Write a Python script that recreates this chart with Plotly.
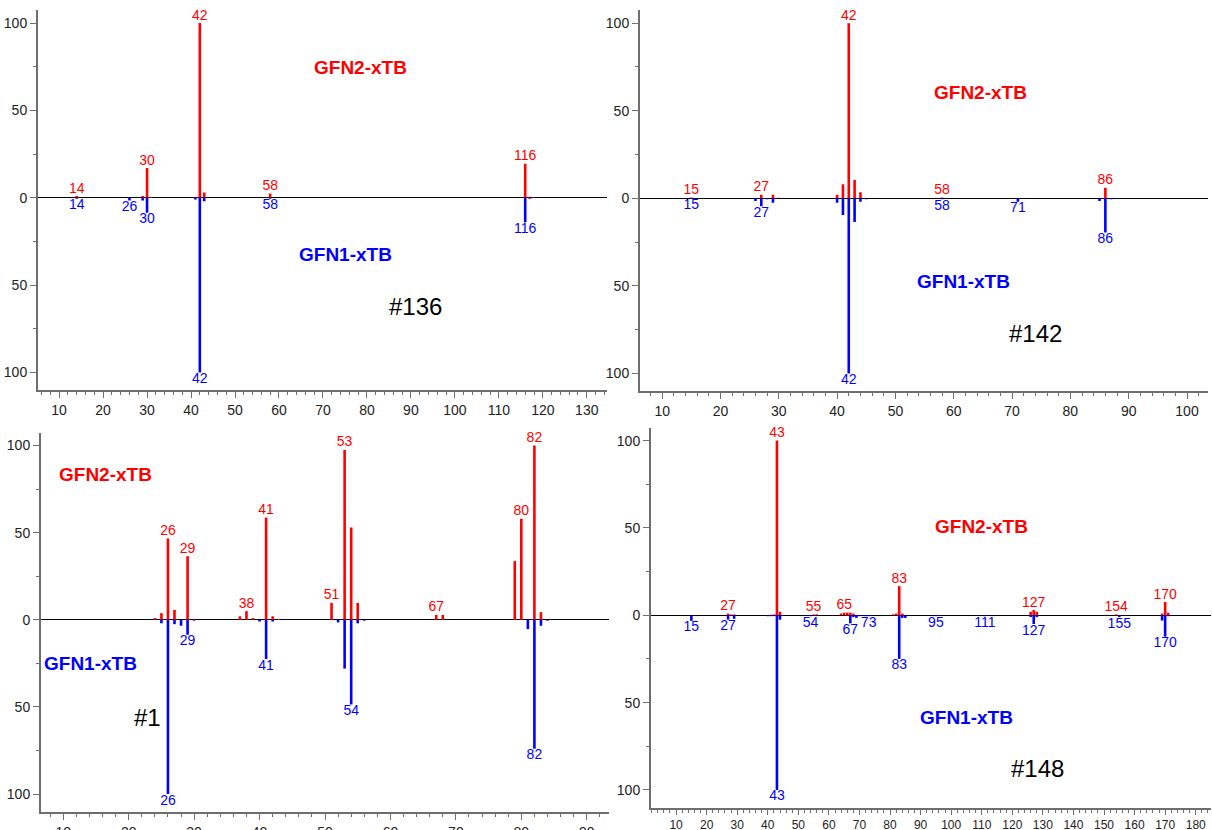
import plotly.graph_objects as go

# ---------------- DATA ----------------
# Panel #136
p136_gfn2_mz = [14, 29, 30, 31, 41, 42, 43, 58, 116, 117, 118]
p136_gfn2_int = [1.0, 1.0, 17, 0.5, 0.5, 100, 3, 2.5, 19.5, 0.6, 0.3]
p136_gfn1_mz = [14, 26, 29, 30, 41, 42, 43, 58, 116, 117]
p136_gfn1_int = [0.5, 1.5, 1.5, 8.5, 1.0, 100, 2.0, 0.5, 14, 0.5]
p136_gfn2_labels = [14, 30, 42, 58, 116]
p136_gfn1_labels = [14, 26, 30, 42, 58, 116]

# Panel #142
p142_gfn2_mz = [15, 27, 29, 30, 40, 41, 42, 43, 44, 58, 86]
p142_gfn2_int = [0.5, 2.0, 2.0, 0.3, 2.0, 8.0, 100, 10.5, 3.5, 0.5, 6.0]
p142_gfn1_mz = [15, 26, 27, 28, 29, 40, 41, 42, 43, 44, 45, 58, 71, 72, 85, 86, 87, 88]
p142_gfn1_int = [0.3, 1.5, 4.5, 0.5, 2.5, 2.5, 9.5, 100, 13.5, 2.0, 0.5, 0.5, 2.0, 0.3, 1.5, 19.5, 0.5, 0.3]
p142_gfn2_labels = [15, 27, 42, 58, 86]
p142_gfn1_labels = [15, 27, 42, 58, 71, 86]

# Panel #1
p1_gfn2_mz = [24, 25, 26, 27, 29, 30, 37, 38, 39, 41, 42, 43, 51, 53, 54, 55, 67, 68, 79, 80, 82, 83]
p1_gfn2_int = [1.0, 3.8, 46.7, 5.7, 36.5, 0.5, 2.0, 5.0, 1.0, 58.7, 2.0, 0.5, 9.7, 97.5, 53, 9.7, 2.8, 2.8, 33.7, 58, 100, 4.4]
p1_gfn1_mz = [25, 26, 27, 28, 29, 30, 40, 41, 42, 52, 53, 54, 55, 56, 81, 82, 83, 84]
p1_gfn1_int = [2.0, 100, 2.5, 3.4, 8.6, 0.5, 1.0, 22.5, 1.0, 1.5, 28, 48.6, 2.0, 0.5, 5.3, 74, 3.4, 0.5]
p1_gfn2_labels = [26, 29, 38, 41, 51, 53, 67, 80, 82]
p1_gfn1_labels = [26, 29, 41, 54, 82]

# Panel #148
p148_gfn2_mz = [27, 28, 29, 41, 42, 43, 44, 55, 56, 64, 65, 66, 67, 68, 81, 82, 83, 84,
                126, 127, 128, 154, 169, 170, 171]
p148_gfn2_int = [1.0, 0.5, 0.5, 0.3, 0.5, 100, 2.0, 0.5, 0.5, 1.0, 1.5, 1.5, 1.5, 1.0, 0.5, 1.0, 16.7, 1.0,
                 2.0, 3.0, 2.0, 0.5, 1.0, 7.6, 1.5]
p148_gfn1_mz = [15, 27, 28, 29, 40, 41, 42, 43, 44, 45, 54, 55, 67, 68, 69, 70, 72, 73, 83, 84, 85,
                95, 96, 111, 126, 127, 128, 155, 169, 170, 171]
p148_gfn1_int = [3.2, 2.5, 0.3, 2.0, 0.5, 0.5, 0.5, 100, 2.5, 0.3, 0.5, 0.3, 4.6, 1.0, 1.5, 0.5, 0.5, 0.5, 25, 1.5, 1.5,
                 0.5, 0.3, 0.5, 1.0, 5.0, 1.0, 1.0, 3.0, 12.2, 0.5]
p148_gfn2_labels = [27, 43, 55, 65, 83, 127, 154, 170]
p148_gfn1_labels = [15, 27, 43, 54, 67, 73, 83, 95, 111, 127, 155, 170]

panel_names = ["#136", "#142", "#1", "#148"]
x_ranges = [[5.2, 134.6], [6.2, 103.6], [6.6, 93.4], [1.8, 185.0]]

panels = [
    (p136_gfn2_mz, p136_gfn2_int, p136_gfn1_mz, p136_gfn1_int, p136_gfn2_labels, p136_gfn1_labels),
    (p142_gfn2_mz, p142_gfn2_int, p142_gfn1_mz, p142_gfn1_int, p142_gfn2_labels, p142_gfn1_labels),
    (p1_gfn2_mz, p1_gfn2_int, p1_gfn1_mz, p1_gfn1_int, p1_gfn2_labels, p1_gfn1_labels),
    (p148_gfn2_mz, p148_gfn2_int, p148_gfn1_mz, p148_gfn1_int, p148_gfn2_labels, p148_gfn1_labels),
]

# ---------------- LAYOUT / STYLE ----------------
W, H_REF = 1212, 830
H_FIG = 840
# pixel boxes (left, top, right, bottom) in reference pixels
boxes = [(38, 10, 607, 390), (640, 10, 1208, 391), (41, 432, 609, 811), (651, 427, 1211, 807)]
# annotation centres in axis-domain fractions: (gfn2, gfn1, name)
ann_pos = [
    ((0.566, 0.85), (0.540, 0.358), (0.664, 0.221)),
    ((0.599, 0.785), (0.570, 0.289), (0.697, 0.152)),
    ((0.114, 0.889), (0.088, 0.390), (0.188, 0.248)),
    ((0.591, 0.739), (0.5625, 0.239), (0.691, 0.103)),
]
xtick_sizes = [14, 14, 14, 12]
xtick_lens = [6, 6, 6, 5]

RED = "#ff0000"
BLUE = "#0000ff"
FONT = "Liberation Sans, Arial, sans-serif"


def stems(mz, vals, sign):
    xs, ys = [], []
    for m, v in zip(mz, vals):
        xs += [m, m, None]
        ys += [0, sign * v, None]
    return xs, ys


fig = go.Figure()
layout = dict(width=W, height=H_FIG, margin=dict(l=0, r=0, t=0, b=0),
              paper_bgcolor="white", plot_bgcolor="white", showlegend=False,
              font=dict(family=FONT, size=14, color="#222"))
annotations = []

for i, (g2m, g2v, g1m, g1v, g2l, g1l) in enumerate(panels):
    n = "" if i == 0 else str(i + 1)
    xa, ya = "x" + n, "y" + n
    l, t, r, b = boxes[i]
    dom_x = [l / W, r / W]
    dom_y = [1 - b / H_REF, 1 - t / H_REF]

    xs, ys = stems(g2m, g2v, 1)
    fig.add_trace(go.Scatter(x=xs, y=ys, mode="lines", line=dict(color=RED, width=2.6),
                             xaxis=xa, yaxis=ya, hoverinfo="skip"))
    xs, ys = stems(g1m, g1v, -1)
    fig.add_trace(go.Scatter(x=xs, y=ys, mode="lines", line=dict(color=BLUE, width=2.6),
                             xaxis=xa, yaxis=ya, hoverinfo="skip"))

    g2d = dict(zip(g2m, g2v))
    g1d = dict(zip(g1m, g1v))
    fig.add_trace(go.Scatter(x=g2l, y=[g2d.get(m, 0) for m in g2l], mode="text",
                             text=[str(m) for m in g2l], textposition="top center",
                             textfont=dict(color=RED, size=14, family=FONT),
                             xaxis=xa, yaxis=ya, cliponaxis=False, hoverinfo="skip"))
    fig.add_trace(go.Scatter(x=g1l, y=[-g1d.get(m, 0) for m in g1l], mode="text",
                             text=[str(m) for m in g1l], textposition="bottom center",
                             textfont=dict(color=BLUE, size=14, family=FONT),
                             xaxis=xa, yaxis=ya, cliponaxis=False, hoverinfo="skip"))

    layout["xaxis" + n] = dict(
        domain=dom_x, range=x_ranges[i], anchor=ya, showgrid=False, zeroline=False,
        showline=True, linecolor="#6e6e6e", linewidth=2, ticks="outside", ticklen=xtick_lens[i],
        tickcolor="#6e6e6e", tickwidth=1, dtick=10, tick0=0,
        tickfont=dict(size=xtick_sizes[i], family=FONT, color="#222"),
        minor=dict(dtick=2, tick0=0, ticks="outside", ticklen=3, tickcolor="#6e6e6e"),
    )
    layout["yaxis" + n] = dict(
        domain=dom_y, range=[-110.3, 107.5], anchor=xa, showgrid=False,
        zeroline=True, zerolinecolor="#000000", zerolinewidth=1,
        showline=True, linecolor="#6e6e6e", linewidth=2, ticks="outside", ticklen=6,
        tickcolor="#6e6e6e", tickwidth=1,
        tickvals=[-100, -50, 0, 50, 100], ticktext=["100", "50", "0", "50", "100"],
        tickfont=dict(size=14, family=FONT, color="#222"),
        minor=dict(tickvals=[-75, -25, 25, 75], ticks="outside", ticklen=3, tickcolor="#6e6e6e"),
    )

    (a2, a1, an) = ann_pos[i]
    common = dict(xref=xa + " domain", yref=ya + " domain", showarrow=False,
                  xanchor="center", yanchor="middle")
    annotations.append(dict(text="<b>GFN2-xTB</b>", x=a2[0], y=a2[1],
                            font=dict(color=RED, size=19, family=FONT), **common))
    annotations.append(dict(text="<b>GFN1-xTB</b>", x=a1[0], y=a1[1],
                            font=dict(color=BLUE, size=19, family=FONT), **common))
    annotations.append(dict(text=panel_names[i], x=an[0], y=an[1],
                            font=dict(color="black", size=24, family=FONT), **common))

layout["annotations"] = annotations
fig.update_layout(**layout)
fig.write_html("out.html", config={"displayModeBar": False},
               post_script="document.body.style.margin='0px';document.body.style.overflow='hidden';")
